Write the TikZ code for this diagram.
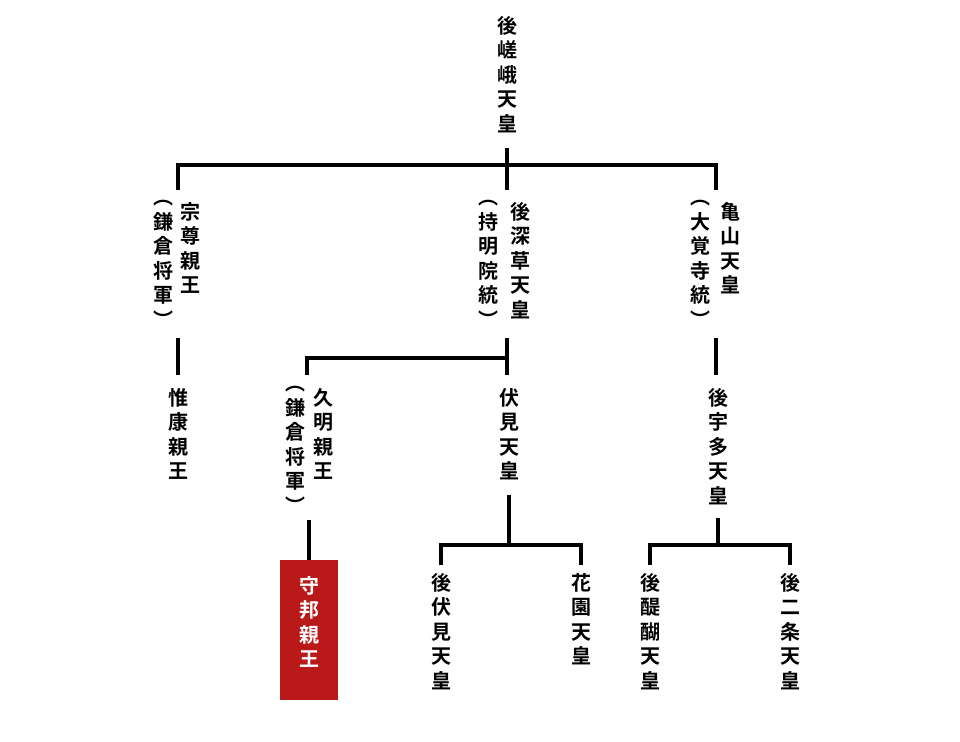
\documentclass[tikz,border=0pt]{standalone}
\usepackage{fontspec}
\setmainfont{Noto Sans CJK JP}[BoldFont={Noto Sans CJK JP Bold}]
\begin{document}
\begin{tikzpicture}[x=1pt,y=-1pt,
  nm/.style={anchor=north,align=center,inner sep=0pt,font=\bfseries\fontsize{20}{24.5}\selectfont},
  ln/.style={line width=3.5pt}]
\useasboundingbox (0,0) rectangle (960,741);
\fill[white] (0,0) rectangle (960,741);
\node[nm] (a) at (507,16) {後\\嵯\\峨\\天\\皇};
\node[nm] (b) at (190,202) {宗\\尊\\親\\王};
\node[nm] (bp) at (163,200) {︵\\鎌\\倉\\将\\軍\\︶};
\node[nm] (c) at (520,202) {後\\深\\草\\天\\皇};
\node[nm] (cp) at (488,200) {︵\\持\\明\\院\\統\\︶};
\node[nm] (d) at (730,202) {亀\\山\\天\\皇};
\node[nm] (dp) at (700,200) {︵\\大\\覚\\寺\\統\\︶};
\node[nm] (e) at (178,388) {惟\\康\\親\\王};
\node[nm] (f) at (323,388) {久\\明\\親\\王};
\node[nm] (fp) at (295,386) {︵\\鎌\\倉\\将\\軍\\︶};
\node[nm] (g) at (509,388) {伏\\見\\天\\皇};
\node[nm] (h) at (718,388) {後\\宇\\多\\天\\皇};
\fill[red!70!black!90] (280,560) rectangle (338,700);
\node[nm,text=white] (i) at (309,576) {守\\邦\\親\\王};
\node[nm] (j) at (441,573) {後\\伏\\見\\天\\皇};
\node[nm] (k) at (581,573) {花\\園\\天\\皇};
\node[nm] (l) at (650,573) {後\\醍\\醐\\天\\皇};
\node[nm] (m) at (790,573) {後\\二\\条\\天\\皇};
\draw[ln] (507,148) -- (507,190);
\draw[ln] (178,190) -- (178,165) -- (716,165) -- (716,190);
\draw[ln] (178,338) -- (178,375);
\draw[ln] (507,338) -- (507,375);
\draw[ln] (307,375) -- (307,358) -- (507,358);
\draw[ln] (716,338) -- (716,375);
\draw[ln] (309,520) -- (309,560);
\draw[ln] (509,495) -- (509,545);
\draw[ln] (441,565) -- (441,545) -- (581,545) -- (581,565);
\draw[ln] (718,518) -- (718,545);
\draw[ln] (650,565) -- (650,545) -- (790,545) -- (790,565);
\end{tikzpicture}
\end{document}
